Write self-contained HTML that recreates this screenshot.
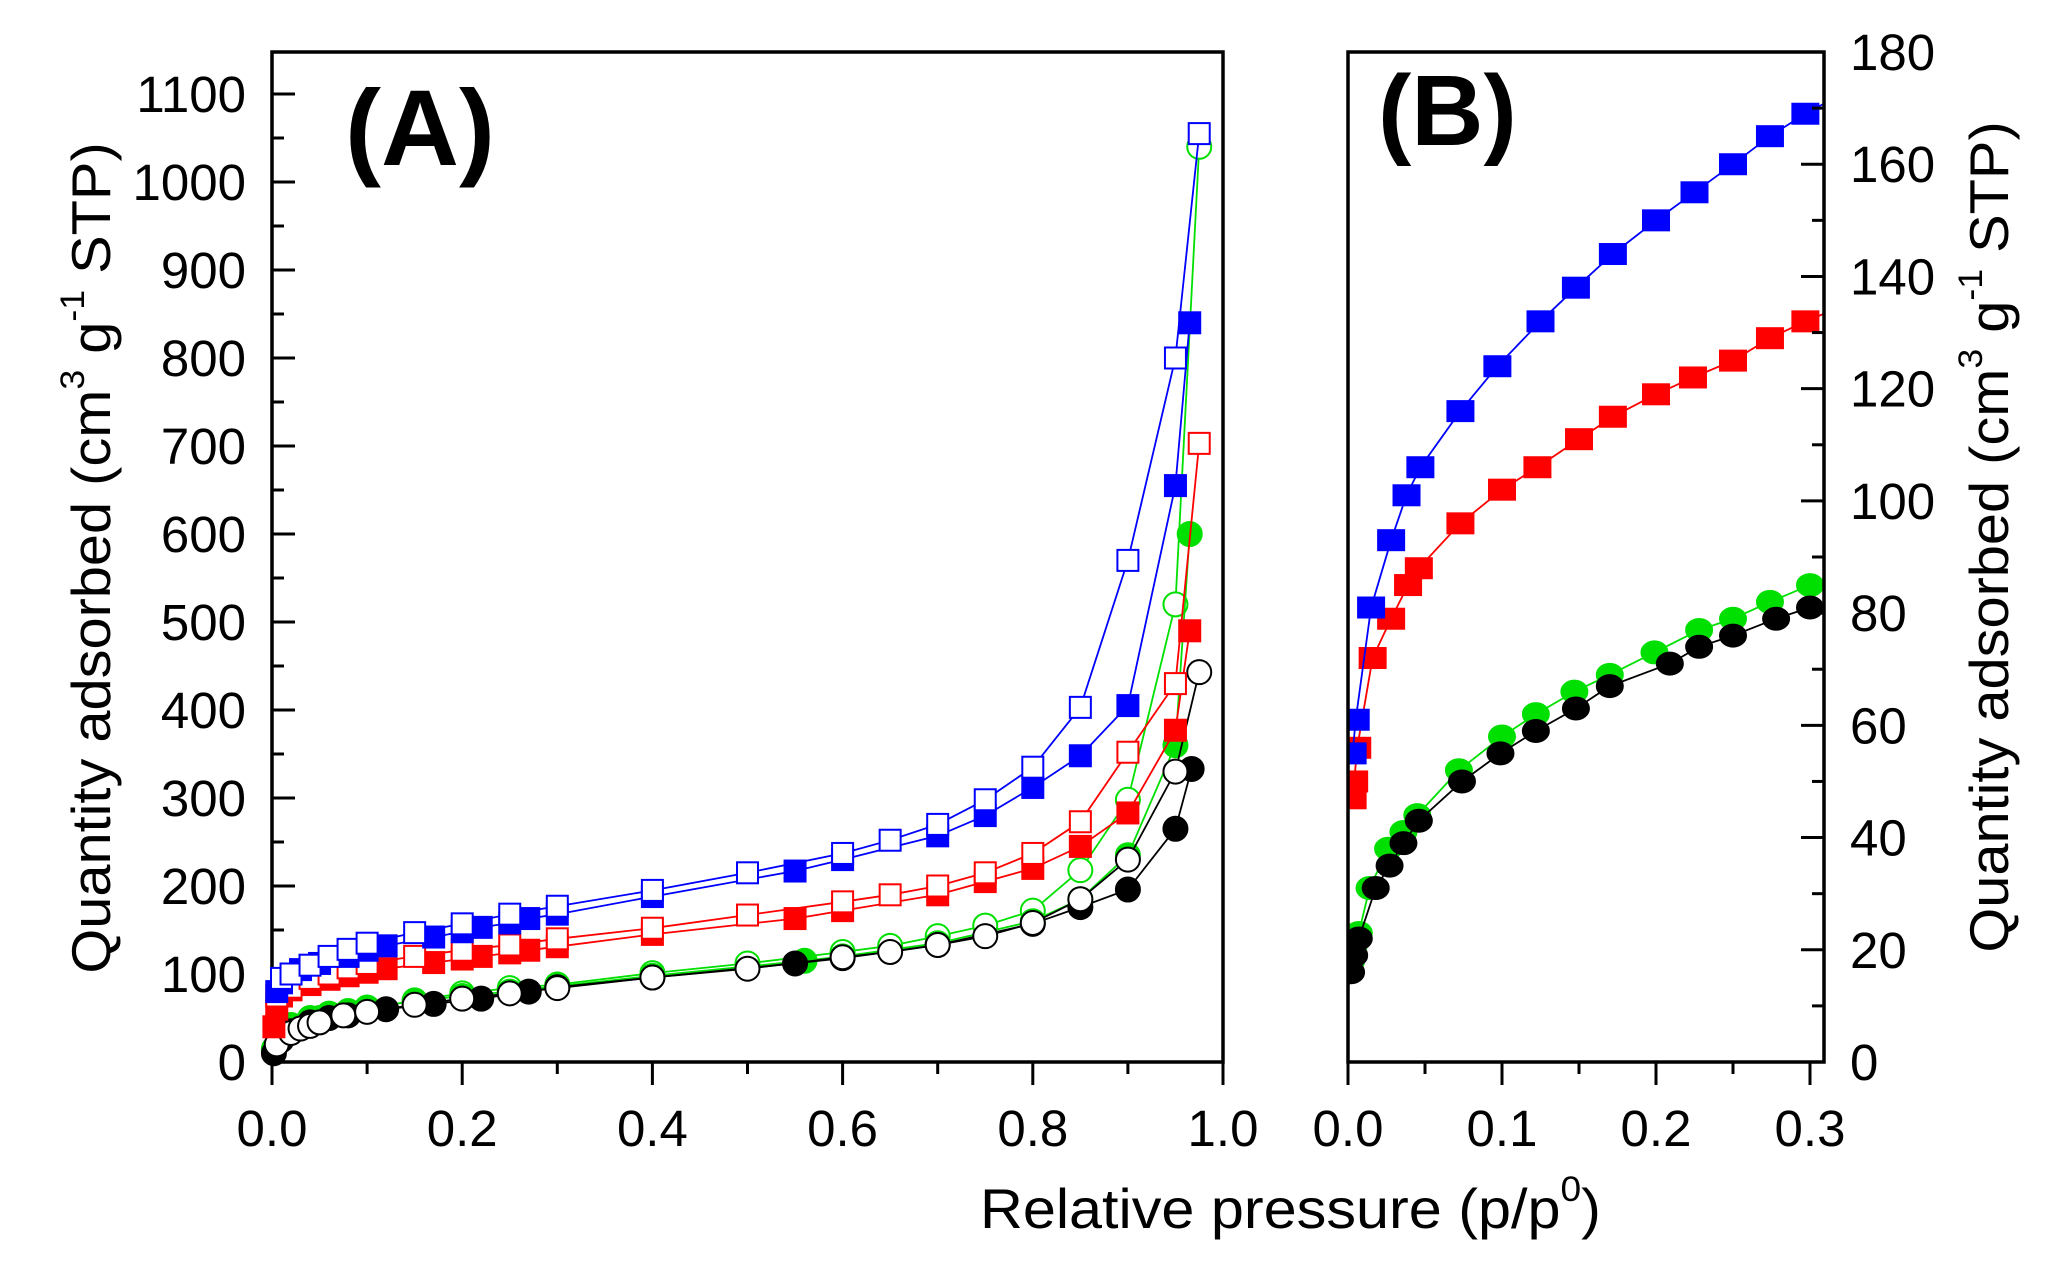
<!DOCTYPE html>
<html><head><meta charset="utf-8"><style>
html,body{margin:0;padding:0;background:#fff;}
svg{display:block;font-family:"Liberation Sans",Arial,sans-serif;}
</style></head><body>
<svg id="chart" width="2070" height="1267" viewBox="0 0 2070 1267" xmlns="http://www.w3.org/2000/svg">
<g id="gA"></g>
<g id="gB"></g>
<text x="345" y="165" font-size="108" font-weight="bold">(A)</text>
<text x="1378" y="145" font-size="100" font-weight="bold">(B)</text>
<text transform="translate(110,558) rotate(-90) scale(1.05,1)" text-anchor="middle" font-size="55">Quantity adsorbed (cm<tspan dy="-26" font-size="34">3</tspan><tspan dy="26"> g</tspan><tspan dy="-26" font-size="34">-1</tspan><tspan dy="26"> STP)</tspan></text>
<text transform="translate(2008,537) rotate(-90) scale(1.05,1)" text-anchor="middle" font-size="55">Quantity adsorbed (cm<tspan dy="-26" font-size="34">3</tspan><tspan dy="26"> g</tspan><tspan dy="-26" font-size="34">-1</tspan><tspan dy="26"> STP)</tspan></text>
<text transform="translate(980,1228) scale(1.06,1)" x="0" y="0" font-size="56">Relative pressure (p/p<tspan dy="-27" font-size="35">0</tspan><tspan dy="27">)</tspan></text>
</svg>
<script>
// Panel A data
const blueDesX=[0.01,0.02,0.04,0.06,0.08,0.1,0.15,0.2,0.25,0.3,0.4,0.5,0.6,0.65,0.7,0.75,0.8,0.85,0.9,0.95,0.975];
const blueDesY=[95,100,110,120,128,135,147,157,168,177,195,215,237,252,270,298,335,403,570,800,1055];
const blueAdsX=[0.005,0.01,0.03,0.05,0.08,0.1,0.12,0.17,0.2,0.22,0.25,0.27,0.3,0.4,0.55,0.6,0.7,0.75,0.8,0.85,0.9,0.95,0.965];
const blueAdsY=[80,90,105,112,120,127,132,142,148,153,158,163,168,188,217,230,257,280,312,348,405,655,840];
const redDesX=[0.005,0.02,0.04,0.06,0.08,0.1,0.15,0.2,0.25,0.3,0.4,0.5,0.6,0.65,0.7,0.75,0.8,0.85,0.9,0.95,0.975];
const redDesY=[75,85,95,100,107,112,120,127,133,140,152,167,182,190,200,215,237,273,352,430,703];
const redAdsX=[0.002,0.005,0.01,0.02,0.04,0.06,0.08,0.1,0.12,0.17,0.2,0.22,0.25,0.27,0.3,0.4,0.55,0.6,0.7,0.75,0.8,0.85,0.9,0.95,0.965];
const redAdsY=[40,60,75,82,88,94,98,102,106,113,117,120,124,127,131,145,163,172,190,205,220,245,283,377,490];
const greenAdsX=[0.002,0.01,0.02,0.04,0.06,0.08,0.1,0.15,0.2,0.25,0.3,0.4,0.56,0.6,0.7,0.8,0.85,0.9,0.95,0.965];
const greenAdsY=[15,35,42,50,55,58,62,69,75,80,86,98,115,120,135,160,185,235,360,600];
const greenDesX=[0.01,0.05,0.1,0.15,0.2,0.25,0.3,0.4,0.5,0.6,0.65,0.7,0.75,0.8,0.85,0.9,0.95,0.975];
const greenDesY=[30,50,60,70,78,84,88,101,112,125,132,143,155,172,218,298,520,1040];
const blackAdsX=[0.002,0.01,0.02,0.04,0.06,0.08,0.12,0.17,0.22,0.27,0.3,0.4,0.55,0.6,0.7,0.8,0.85,0.9,0.95,0.967];
const blackAdsY=[10,25,35,45,50,53,60,66,72,80,85,96,112,118,133,157,176,196,265,333];
const blackDesX=[0.005,0.02,0.03,0.04,0.05,0.075,0.1,0.15,0.2,0.25,0.3,0.4,0.5,0.6,0.65,0.7,0.75,0.8,0.85,0.9,0.95,0.975];
const blackDesY=[20,33,38,41,45,53,57,65,72,78,84,96,106,119,125,133,143,158,185,230,330,443];
// Panel B data
const bBlueX=[0.003,0.005,0.015,0.028,0.038,0.047,0.073,0.097,0.125,0.148,0.172,0.2,0.225,0.25,0.274,0.297];
const bBlueY=[55,61,81,93,101,106,116,124,132,138,144,150,155,160,165,169];
const bRedX=[0.003,0.004,0.006,0.016,0.028,0.039,0.046,0.073,0.1,0.123,0.15,0.172,0.2,0.224,0.25,0.274,0.297];
const bRedY=[47,50,56,72,79,85,88,96,102,106,111,115,119,122,125,129,132];
const bGreenX=[0.002,0.004,0.007,0.014,0.026,0.036,0.045,0.072,0.1,0.122,0.147,0.17,0.199,0.228,0.25,0.274,0.3];
const bGreenY=[18,21,23,31,38,41,44,52,58,62,66,69,73,77,79,82,85];
const bBlackX=[0.002,0.004,0.007,0.018,0.027,0.036,0.046,0.074,0.099,0.122,0.148,0.17,0.209,0.228,0.25,0.278,0.3];
const bBlackY=[16,19,22,31,35,39,43,50,55,59,63,67,71,74,76,79,81];
const aXTicks=["0.0","0.2","0.4","0.6","0.8","1.0"];
const aYTicks=["0","100","200","300","400","500","600","700","800","900","1000","1100"];
const bXTicks=["0.0","0.1","0.2","0.3"];
const bYTicks=["0","20","40","60","80","100","120","140","160","180"];

const NS="http://www.w3.org/2000/svg";
function mk(parent,tag,attrs){const e=document.createElementNS(NS,tag);for(const k in attrs)e.setAttribute(k,attrs[k]);parent.appendChild(e);return e;}
const ax=v=>272+v*951, ay=v=>1062-v*0.88;
const bx=v=>1348+v*1540, by=v=>1062-v*5.611;
const gA=document.getElementById('gA'), gB=document.getElementById('gB');
const FS=51;

function series(g,X,Y,fx,fy,color,shape,filled,name,sw,sh){
  const s=mk(g,'g',{});
  
  
  const pts=X.map((x,i)=>fx(x).toFixed(1)+','+fy(Y[i]).toFixed(1)).join(' ');
  const pl=mk(s,'polyline',{points:pts,fill:'none',stroke:color,'stroke-width':1.8});
  
  
  X.forEach((x,i)=>{
    const cx=fx(x), cy=fy(Y[i]);
    let m;
    if(shape==='sq') m=mk(s,'rect',{x:cx-sw/2,y:cy-sh/2,width:sw,height:sh,fill:filled?color:'#fff',stroke:color,'stroke-width':2});
    else m=mk(s,'ellipse',{cx:cx,cy:cy,rx:sw/2,ry:sh/2,fill:filled?color:'#fff',stroke:color,'stroke-width':2});
    
    
  });
}
// Panel A frame
const fa=mk(gA,'rect',{x:272,y:52,width:951,height:1010,fill:'none',stroke:'#000','stroke-width':3.5});


for(let i=0;i<=22;i++){const y=ay(i*50);const L=i%2?12:23;mk(gA,'line',{x1:272,y1:y,x2:272+L,y2:y,stroke:'#000','stroke-width':3});}
aYTicks.forEach(t=>{const e=mk(gA,'text',{x:246,y:ay(+t)+18,'text-anchor':'end','font-size':FS});e.textContent=t;
  
  });
for(let i=0;i<=10;i++){const x=ax(i*0.1);const L=i%2?12:23;mk(gA,'line',{x1:x,y1:1062,x2:x,y2:1062+L,stroke:'#000','stroke-width':3});}
aXTicks.forEach(t=>{const e=mk(gA,'text',{x:ax(+t),y:1146,'text-anchor':'middle','font-size':FS});e.textContent=t;
  
  });
series(gA,greenDesX,greenDesY,ax,ay,'#00e000','ci',false,'green-desorption',24,24);
series(gA,greenAdsX,greenAdsY,ax,ay,'#00e000','ci',true,'green-adsorption',24,24);
series(gA,blackAdsX,blackAdsY,ax,ay,'#000','ci',true,'black-adsorption',24,24);
series(gA,blackDesX,blackDesY,ax,ay,'#000','ci',false,'black-desorption',24,24);
series(gA,redAdsX,redAdsY,ax,ay,'#ff0000','sq',true,'red-adsorption',21,21);
series(gA,redDesX,redDesY,ax,ay,'#ff0000','sq',false,'red-desorption',21,21);
series(gA,blueAdsX,blueAdsY,ax,ay,'#0000ff','sq',true,'blue-adsorption',21,21);
series(gA,blueDesX,blueDesY,ax,ay,'#0000ff','sq',false,'blue-desorption',21,21);
// Panel B
const clip=mk(gB,'clipPath',{id:'cb'});mk(clip,'rect',{x:1348,y:52,width:476,height:1010});
const inner=mk(gB,'g',{'clip-path':'url(#cb)'});


series(inner,bGreenX,bGreenY,bx,by,'#00e000','ci',true,'b-green-adsorption',26,22);
series(inner,bBlackX,bBlackY,bx,by,'#000','ci',true,'b-black-adsorption',26,22);
series(inner,bRedX,bRedY,bx,by,'#ff0000','sq',true,'b-red-adsorption',26,20);
series(inner,bBlueX,bBlueY,bx,by,'#0000ff','sq',true,'b-blue-adsorption',26,20);
mk(inner,'line',{x1:bx(0.297),y1:by(169),x2:1826,y2:by(171),stroke:'#0000ff','stroke-width':1.8});
mk(inner,'line',{x1:bx(0.297),y1:by(132),x2:1826,y2:by(133.5),stroke:'#ff0000','stroke-width':1.8});
const fb=mk(gB,'rect',{x:1348,y:52,width:476,height:1010,fill:'none',stroke:'#000','stroke-width':3.5});


for(let i=0;i<=18;i++){const y=by(i*10);const L=i%2?12:23;mk(gB,'line',{x1:1824,y1:y,x2:1824-L,y2:y,stroke:'#000','stroke-width':3});}
bYTicks.forEach(t=>{const e=mk(gB,'text',{x:1850,y:by(+t)+18,'text-anchor':'start','font-size':FS});e.textContent=t;
  
  });
for(let i=0;i<=6;i++){const x=bx(i*0.05);const L=i%2?12:23;mk(gB,'line',{x1:x,y1:1062,x2:x,y2:1062+L,stroke:'#000','stroke-width':3});}
bXTicks.forEach(t=>{const e=mk(gB,'text',{x:bx(+t),y:1146,'text-anchor':'middle','font-size':FS});e.textContent=t;
  
  });
</script>
</body></html>
